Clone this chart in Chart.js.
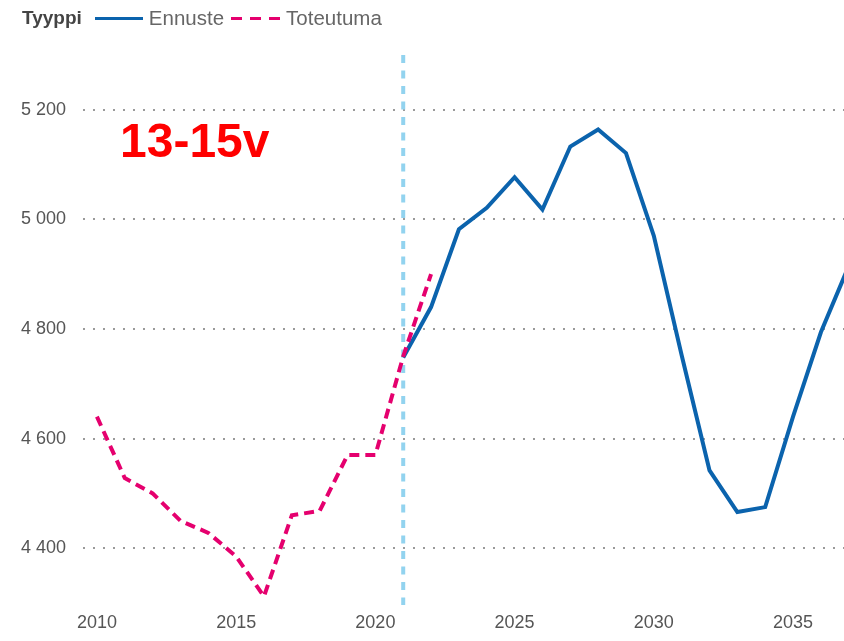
<!DOCTYPE html>
<html>
<head>
<meta charset="utf-8">
<script src="https://cdn.jsdelivr.net/npm/chart.js@4/dist/chart.umd.min.js"></script>
<style>
  html, body { margin: 0; padding: 0; background: #fff; overflow: hidden; }
  #wrap { position: relative; width: 844px; height: 641px; }
  #legend { position: absolute; left: 22px; top: 6px; font-family: "Liberation Sans", Arial, sans-serif; color: #666; font-size: 20.5px; display: flex; align-items: center; white-space: nowrap; line-height: 24px; }
  #legend b { color: #444; font-size: 19px; margin-right: 13px; }
  .sample { display: inline-block; width: 48px; height: 3px; margin-right: 6px; }
  .solid { background: #0b63ad; }
  .dash { width: 49px; margin-left: 7px; background: repeating-linear-gradient(to right, #e5006e 0, #e5006e 11px, transparent 11px, transparent 19px); }
  #tag { position: absolute; left: 120px; top: 113px; font-family: "Liberation Sans", Arial, sans-serif; font-weight: bold; font-size: 48px; color: #ff0000; }
</style>
</head>
<body>
<div id="wrap">
  <canvas id="grafico" width="844" height="641"></canvas>
  <div id="legend"><b>Tyyppi</b><span class="sample solid"></span>Ennuste<span class="sample dash"></span>Toteutuma</div>
  <div id="tag">13-15v</div>
</div>
<script>
// Toteutuma (actual)
const vuodetToteutuma = [2010, 2011, 2012, 2013, 2014, 2015, 2016, 2017, 2018, 2019, 2020, 2021, 2022];
const toteutuma = [4640, 4528, 4500, 4450, 4428, 4385, 4312, 4460, 4468, 4570, 4570, 4750, 4900];

// Ennuste (forecast)
const vuodetEnnuste = [2021, 2022, 2023, 2024, 2025, 2026, 2027, 2028, 2029, 2030, 2031, 2032, 2033, 2034, 2035, 2036, 2037];
const ennuste = [4748, 4840, 4982, 5021, 5077, 5018, 5133, 5164, 5121, 4970, 4752, 4542, 4466, 4475, 4640, 4794, 4915];

const yTicks = [4400, 4600, 4800, 5000, 5200];
const xTicks = [2010, 2015, 2020, 2025, 2030, 2035];
const ennusteAlku = 2021;

const fmt = v => String(v).replace(/\B(?=(\d{3})+(?!\d))/g, ' ');

// pystyviiva ennusteen alkuun
const pystyviiva = {
  id: 'pystyviiva',
  beforeDatasetsDraw(chart) {
    const { ctx, chartArea, scales } = chart;
    const x = scales.x.getPixelForValue(ennusteAlku);
    ctx.save();
    ctx.strokeStyle = '#92d3ef';
    ctx.lineWidth = 4;
    ctx.setLineDash([8, 7.5]);
    ctx.beginPath();
    ctx.moveTo(x, chartArea.top);
    ctx.lineTo(x, chartArea.bottom + 2);
    ctx.stroke();
    ctx.restore();
  }
};

new Chart(document.getElementById('grafico').getContext('2d'), {
  type: 'line',
  data: {
    datasets: [
      {
        label: 'Toteutuma',
        data: vuodetToteutuma.map((v, i) => ({ x: v, y: toteutuma[i] })),
        borderColor: '#e5006e',
        borderWidth: 4,
        borderDash: [10, 6],
        pointRadius: 0,
        tension: 0,
        order: 0
      },
      {
        label: 'Ennuste',
        data: vuodetEnnuste.map((v, i) => ({ x: v, y: ennuste[i] })),
        borderColor: '#0b63ad',
        borderWidth: 4,
        pointRadius: 0,
        tension: 0,
        order: 1
      }
    ]
  },
  options: {
    responsive: false,
    animation: false,
    layout: { padding: { top: 55, left: 0, right: 0, bottom: 0 } },
    plugins: { legend: { display: false }, tooltip: { enabled: false } },
    scales: {
      x: {
        type: 'linear',
        min: 2009.5,
        max: 2036.83,
        afterBuildTicks: s => { s.ticks = xTicks.map(v => ({ value: v })); },
        afterFit: s => { s.height = 38; },
        grid: { display: false, drawTicks: false },
        border: { display: false },
        ticks: {
          padding: 9,
          color: '#555',
          font: { family: '"Liberation Sans", Arial, sans-serif', size: 18 },
          callback: v => String(v)
        }
      },
      y: {
        min: 4300,
        max: 5300,
        afterBuildTicks: s => { s.ticks = yTicks.map(v => ({ value: v })); },
        afterFit: s => { s.width = 83; },
        grid: { color: '#9a9a9a', lineWidth: 2, drawTicks: false },
        border: { display: false, dash: [2, 8] },
        ticks: {
          padding: 17,
          color: '#555',
          font: { family: '"Liberation Sans", Arial, sans-serif', size: 18 },
          callback: v => fmt(v)
        }
      }
    }
  },
  plugins: [pystyviiva]
});
</script>
</body>
</html>
